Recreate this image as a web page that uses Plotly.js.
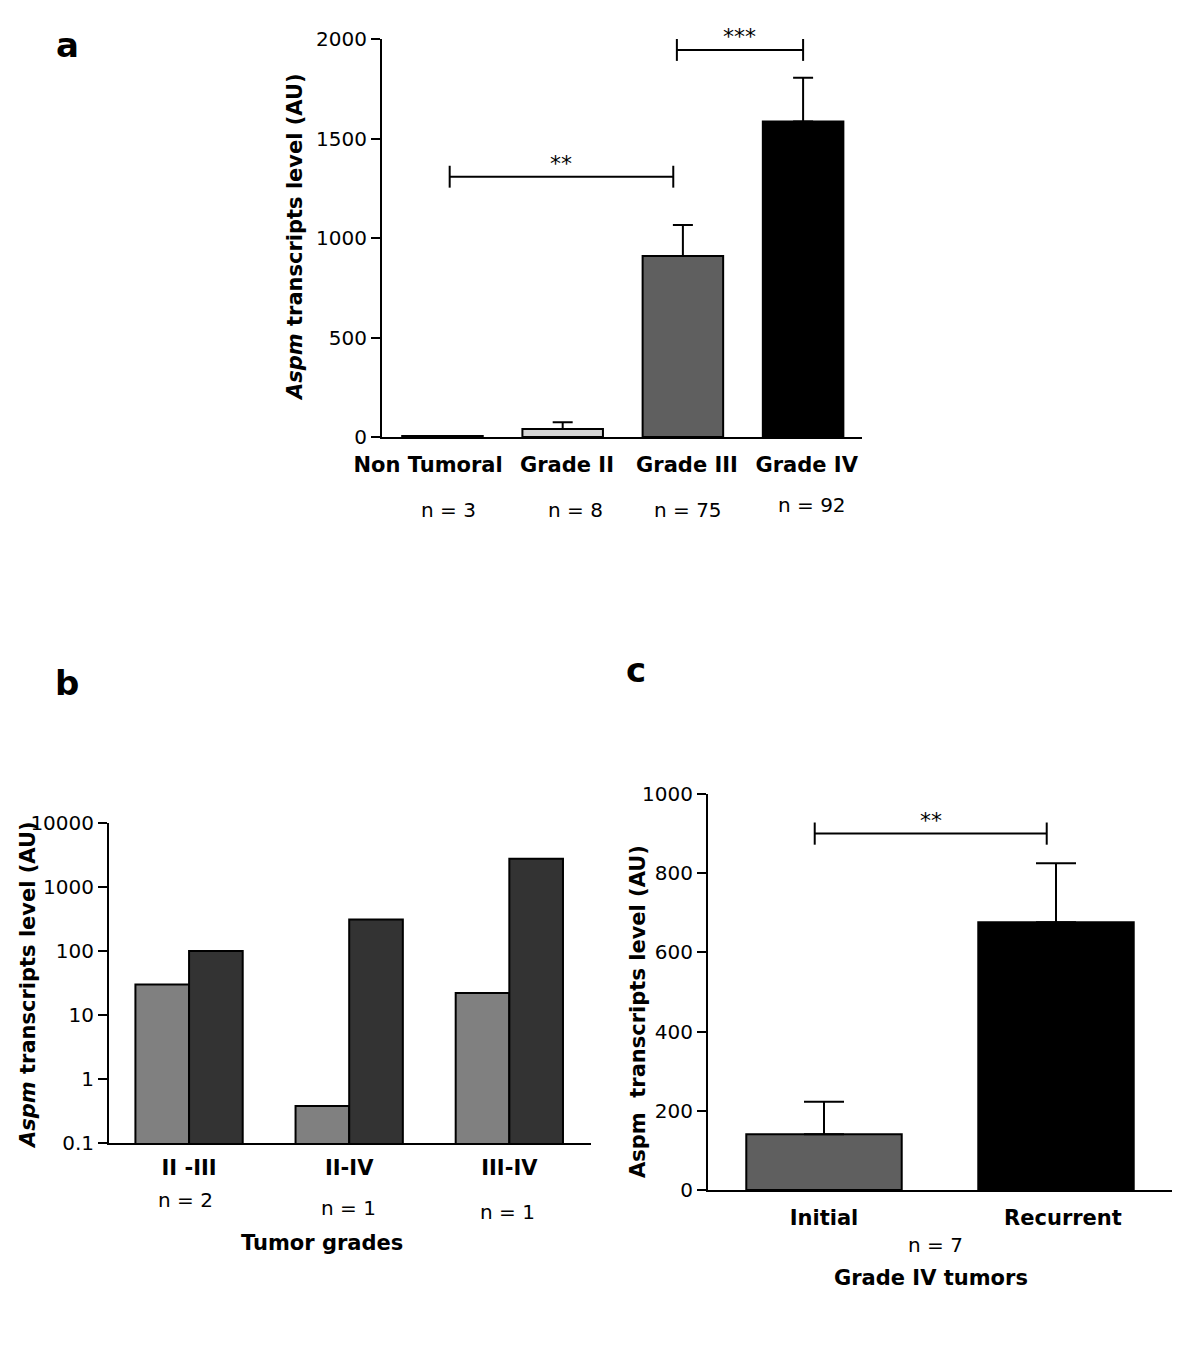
<!DOCTYPE html>
<html><head><meta charset="utf-8">
<script src="https://cdn.plot.ly/plotly-3.0.1.min.js"></script>
<style>html,body{margin:0;padding:0;background:#fff}</style>
</head><body><div id="chart" style="width:1200px;height:1358px"></div>
<script>
// ---------- Panel a data ----------
const aCategories = ['Non Tumoral', 'Grade II', 'Grade III', 'Grade IV'];
const aValues = [5, 40, 910, 1585];
const aErrors = [null, 34, 155, 220];
const aCounts = ['n = 3', 'n = 8', 'n = 75', 'n = 92'];
const aTickVals = [0, 500, 1000, 1500, 2000];
const aSigFrom = [0.06, 1.95];
const aSigTo = [1.92, 3.0];
const aSigLevel = [1308, 1945];
const aSigText = ['**', '***'];

// ---------- Panel b data ----------
const bCategories = ['II -III', 'II-IV', 'III-IV'];
const bLowerGrade = [30, 0.38, 22];
const bHigherGrade = [100, 310, 2770];
const bCounts = ['n = 2', 'n = 1', 'n = 1'];
const bTickVals = [0.1, 1, 10, 100, 1000, 10000];
const bTickText = ['0.1', '1', '10', '100', '1000', '10000'];

// ---------- Panel c data ----------
const cCategories = ['Initial', 'Recurrent'];
const cValues = [141, 676];
const cErrors = [82, 149];
const cCount = 'n = 7';
const cTickVals = [0, 200, 400, 600, 800, 1000];
const cSigFrom = [-0.04];
const cSigTo = [0.96];
const cSigLevel = [900];
const cSigText = ['**'];

// ---------- styling / layout helpers ----------
const W = 1200, H = 1358;
const px = v => v / W;
const py = v => 1 - v / H;
const FONT = 'DejaVu Sans, Liberation Sans, sans-serif';
const BLACK = '#000000';
const idx = arr => arr.map((_, i) => i);
const zeros = arr => arr.map(() => 0);

const aColors = ['#ffffff', '#d4d4d4', '#5f5f5f', '#000000'];
const outline = {color: BLACK, width: 2};
// small horizontal nudges of the category labels (layout only)
const aLabelNudge = [-0.12, 0.036, 0.034, 0.03];
const cLabelNudge = [0, 0.03];

function bracketTrace(from, to, level, half, xa, ya) {
  const xs = [], ys = [];
  for (let i = 0; i < from.length; i++) {
    xs.push(from[i], from[i], null, from[i], to[i], null, to[i], to[i], null);
    ys.push(level[i] - half, level[i] + half, null, level[i], level[i], null, level[i] - half, level[i] + half, null);
  }
  return {type: 'scatter', mode: 'lines', x: xs, y: ys, xaxis: xa, yaxis: ya,
          line: {color: BLACK, width: 2}, hoverinfo: 'skip', showlegend: false};
}

const traces = [
  {type: 'bar', x: idx(aCategories), y: aValues, xaxis: 'x', yaxis: 'y',
   marker: {color: aColors, line: outline},
   error_y: {type: 'data', symmetric: false, array: aErrors, arrayminus: zeros(aErrors),
             color: BLACK, thickness: 2, width: 10},
   showlegend: false},
  bracketTrace(aSigFrom, aSigTo, aSigLevel, 55, 'x', 'y'),

  {type: 'bar', x: idx(bCategories), y: bLowerGrade, xaxis: 'x2', yaxis: 'y2',
   marker: {color: '#808080', line: outline}, showlegend: false},
  {type: 'bar', x: idx(bCategories), y: bHigherGrade, xaxis: 'x2', yaxis: 'y2',
   marker: {color: '#333333', line: outline}, showlegend: false},

  {type: 'bar', x: idx(cCategories), y: cValues, xaxis: 'x3', yaxis: 'y3',
   marker: {color: ['#5f5f5f', '#000000'], line: outline},
   error_y: {type: 'data', symmetric: false, array: cErrors, arrayminus: zeros(cErrors),
             color: BLACK, thickness: 2, width: 20},
   showlegend: false},
  bracketTrace(cSigFrom, cSigTo, cSigLevel, 28, 'x3', 'y3')
];

const xBase = {showline: true, linecolor: BLACK, linewidth: 2, showgrid: false, zeroline: false,
               ticks: '', tickangle: 0, automargin: false,
               tickfont: {family: FONT, size: 21, weight: 'bold', color: BLACK}};
const yBase = {showline: true, linecolor: BLACK, linewidth: 2, showgrid: false, zeroline: false,
               ticks: 'outside', ticklen: 9, tickwidth: 2, tickcolor: BLACK, automargin: false,
               tickfont: {family: FONT, size: 20, color: BLACK}};

const layout = {
  width: W, height: H, margin: {l: 0, r: 0, t: 0, b: 0},
  paper_bgcolor: '#ffffff', plot_bgcolor: 'rgba(0,0,0,0)',
  showlegend: false, barmode: 'group', bargap: 0.33, bargroupgap: 0,
  font: {family: FONT, color: BLACK},
  xaxis: Object.assign({}, xBase, {domain: [px(382), px(862)], range: [-0.503, 3.49], anchor: 'y',
          tickvals: idx(aCategories).map((v, i) => v + aLabelNudge[i]), ticktext: aCategories,
          ticklabelstandoff: 8}),
  yaxis: Object.assign({}, yBase, {domain: [py(437), py(39)], range: [0, 2000], anchor: 'x',
          tickvals: aTickVals}),
  xaxis2: Object.assign({}, xBase, {domain: [px(109), px(591)], range: [-0.5, 2.51], anchor: 'y2',
          tickvals: idx(bCategories), ticktext: bCategories, ticklabelstandoff: 5}),
  yaxis2: Object.assign({}, yBase, {domain: [py(1143), py(823)], type: 'log', range: [-1, 4], anchor: 'x2',
          tickvals: bTickVals, ticktext: bTickText}),
  xaxis3: Object.assign({}, xBase, {domain: [px(708), px(1172)], range: [-0.5, 1.5], anchor: 'y3',
          tickvals: idx(cCategories).map((v, i) => v + cLabelNudge[i]), ticktext: cCategories,
          ticklabelstandoff: 8}),
  yaxis3: Object.assign({}, yBase, {domain: [py(1190), py(794)], range: [0, 1000], anchor: 'x3',
          tickvals: cTickVals}),
  annotations: []
};

const ann = layout.annotations;
function txt(x, y, text, size, bold, extra) {
  ann.push(Object.assign({xref: 'paper', yref: 'paper', x: px(x), y: py(y), text: text, showarrow: false,
    xanchor: 'center', yanchor: 'middle',
    font: {family: FONT, size: size, color: BLACK, weight: bold ? 'bold' : 'normal'}}, extra || {}));
}

// panel letters
txt(67, 45, 'a', 34, true);
txt(67, 683, 'b', 34, true);
txt(636, 670, 'c', 34, true);

// axis titles
txt(295, 237, '<i>Aspm</i> transcripts level (AU)', 21, true, {textangle: -90});
txt(28, 985, '<i>Aspm</i> transcripts level (AU)', 21, true, {textangle: -90});
txt(638, 1012, 'Aspm\u00a0 transcripts level (AU)', 21, true, {textangle: -90});
txt(322, 1243, 'Tumor grades', 21, true);
txt(931, 1278, 'Grade IV tumors', 21, true);

// sample sizes
const aCountPos = [[448, 510], [575, 510], [688, 510], [812, 505]];
aCounts.forEach((t, i) => txt(aCountPos[i][0], aCountPos[i][1], t, 20, false));
const bCountPos = [[185, 1200], [348, 1208], [507, 1212]];
bCounts.forEach((t, i) => txt(bCountPos[i][0], bCountPos[i][1], t, 20, false));
txt(935, 1245, cCount, 20, false);

// significance labels
function sig(from, to, level, labels, xr, yr) {
  labels.forEach((t, i) => ann.push({xref: xr, yref: yr, x: (from[i] + to[i]) / 2, y: level[i],
    text: t, showarrow: false, xanchor: 'center', yanchor: 'bottom', yshift: -1,
    font: {family: FONT, size: 22, color: BLACK}}));
}
sig(aSigFrom, aSigTo, aSigLevel, aSigText, 'x', 'y');
sig(cSigFrom, cSigTo, cSigLevel, cSigText, 'x3', 'y3');

Plotly.newPlot('chart', traces, layout, {staticPlot: true, displayModeBar: false});
</script>
</body></html>
